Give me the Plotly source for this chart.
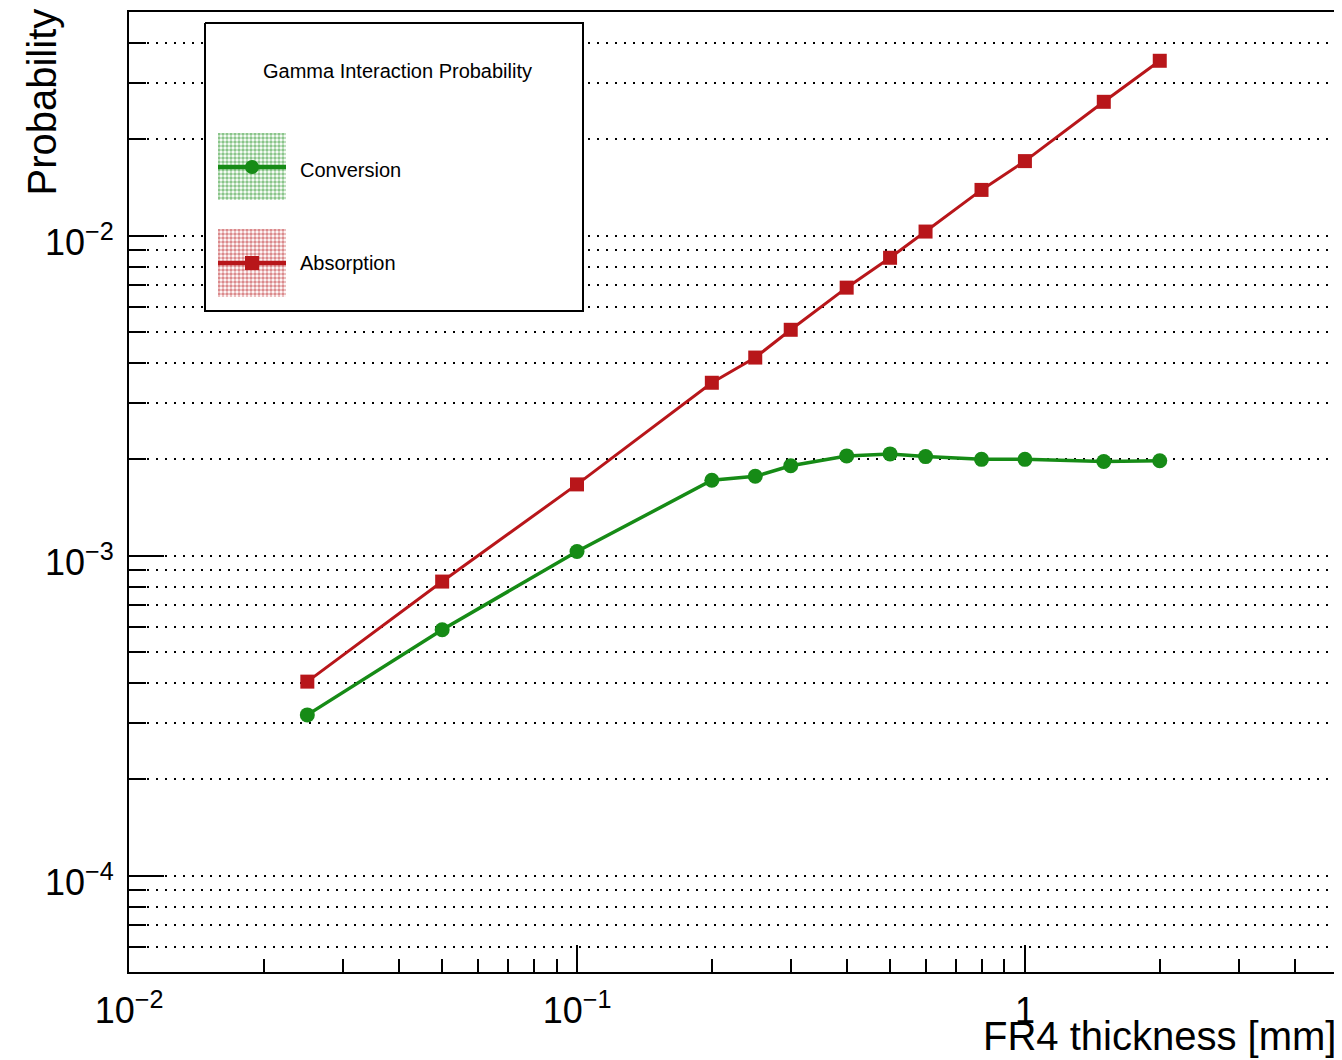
import math
import plotly.graph_objects as go

# ---------------- data ----------------
thickness_mm = [0.025, 0.05, 0.1, 0.2, 0.25, 0.3, 0.4, 0.5, 0.6, 0.8, 1.0, 1.5, 2.0]
conversion = [3.18e-4, 5.87e-4, 1.03e-3, 1.72e-3, 1.77e-3, 1.91e-3, 2.05e-3,
              2.08e-3, 2.04e-3, 2.00e-3, 2.00e-3, 1.97e-3, 1.98e-3]
absorption = [4.04e-4, 8.30e-4, 1.67e-3, 3.47e-3, 4.16e-3, 5.08e-3, 6.88e-3,
              8.53e-3, 1.03e-2, 1.39e-2, 1.71e-2, 2.62e-2, 3.52e-2]

x_major = [0.01, 0.1, 1]
x_major_text = ["10<sup>\u22122</sup>", "10<sup>\u22121</sup>", "1"]
x_minor = [0.02, 0.03, 0.04, 0.05, 0.06, 0.07, 0.08, 0.09,
           0.2, 0.3, 0.4, 0.5, 0.6, 0.7, 0.8, 0.9, 2, 3, 4]
y_major = [1e-4, 1e-3, 1e-2]
y_major_text = ["10<sup>\u22124</sup>", "10<sup>\u22123</sup>", "10<sup>\u22122</sup>"]
y_minor = [6e-5, 7e-5, 8e-5, 9e-5,
           2e-4, 3e-4, 4e-4, 5e-4, 6e-4, 7e-4, 8e-4, 9e-4,
           2e-3, 3e-3, 4e-3, 5e-3, 6e-3, 7e-3, 8e-3, 9e-3,
           2e-2, 3e-2, 4e-2]

legend_title = "Gamma Interaction Probability"
series_names = ["Conversion", "Absorption"]

GREEN = "#168b16"
RED = "#b8161a"
FONT = "Liberation Sans, Arial, Helvetica, sans-serif"

# the page body has an 8px margin; figure sized/placed so the plot frame
# lands at page x 129..1338, y 12..972
PAGE_OFF = 8
W, H = 1334, 1052
ML, MR, MT, MB = 121, 4, 4, 88
PW, PH = W - ML - MR, H - MT - MB
P_LEFT, P_BOTTOM = ML + PAGE_OFF, H - MB + PAGE_OFF


def fx(px):
    return (px - P_LEFT) / PW


def fy(py):
    return (P_BOTTOM - py) / PH


fig = go.Figure()

fig.add_trace(go.Scatter(x=thickness_mm, y=conversion, mode="lines+markers",
                         name=series_names[0], showlegend=False,
                         line=dict(color=GREEN, width=3.5),
                         marker=dict(symbol="circle", size=15, color=GREEN)))
fig.add_trace(go.Scatter(x=thickness_mm, y=absorption, mode="lines+markers",
                         name=series_names[1], showlegend=False,
                         line=dict(color=RED, width=3),
                         marker=dict(symbol="square", size=14, color=RED)))

# ---------------- hand-built legend (ROOT TLegend look) ----------------
box_x0, box_x1 = fx(205), fx(583)
box_y0, box_y1 = fy(311), fy(23)
fig.add_trace(go.Scatter(
    x=[box_x0, box_x1, box_x1, box_x0, box_x0], y=[box_y1, box_y1, box_y0, box_y0, box_y1],
    xaxis="x2", yaxis="y2", mode="lines", fill="toself", fillcolor="white",
    line=dict(color="black", width=2), showlegend=False, hoverinfo="skip"))

entries = [(series_names[0], GREEN, "circle", 133, 200, 167, 170),
           (series_names[1], RED, "square", 229, 297, 263, 263)]
sx0, sx1 = fx(218), fx(286)
for name, col, sym, top, bot, mid, label_y in entries:
    fig.add_trace(go.Scatter(
        x=[sx0, sx1, sx1, sx0, sx0], y=[fy(top), fy(top), fy(bot), fy(bot), fy(top)],
        xaxis="x2", yaxis="y2", mode="lines", fill="toself", showlegend=False,
        hoverinfo="skip", line=dict(width=0, color="rgba(0,0,0,0)"),
        fillcolor="rgba(0,0,0,0)",
        fillpattern=dict(shape=".", fgcolor=col, bgcolor="white", size=4, solidity=0.6)))
    fig.add_trace(go.Scatter(
        x=[sx0, sx1], y=[fy(mid), fy(mid)], xaxis="x2", yaxis="y2", mode="lines",
        showlegend=False, hoverinfo="skip", line=dict(color=col, width=4.5)))
    fig.add_trace(go.Scatter(
        x=[(sx0 + sx1) / 2], y=[fy(mid)], xaxis="x2", yaxis="y2", mode="markers",
        showlegend=False, hoverinfo="skip",
        marker=dict(symbol=sym, size=14, color=col)))
    fig.add_annotation(x=fx(298), y=fy(label_y), xref="paper", yref="paper",
                       text=name, showarrow=False, xanchor="left", yanchor="middle",
                       font=dict(family=FONT, size=20, color="black"))

fig.add_annotation(x=fx(397), y=fy(71), xref="paper", yref="paper",
                   text=legend_title, showarrow=False, xanchor="center", yanchor="middle",
                   font=dict(family=FONT, size=20, color="black"))

# ---------------- axis titles ----------------
fig.add_annotation(x=fx(41), y=1, xref="paper", yref="paper", text="Probability",
                   textangle=-90, showarrow=False, xanchor="center", yanchor="top",
                   yshift=6, font=dict(family=FONT, size=40, color="black"))
fig.add_annotation(x=1, y=0, xref="paper", yref="paper", text="FR4 thickness [mm]",
                   showarrow=False, xanchor="right", yanchor="top", yshift=-40,
                   font=dict(family=FONT, size=40, color="black"))

grid_dash = "2px,7px"
fig.update_layout(
    width=W, height=H, margin=dict(l=ML, r=MR, t=MT, b=MB, autoexpand=False),
    paper_bgcolor="white", plot_bgcolor="white", showlegend=False,
    font=dict(family=FONT, color="black"),
    xaxis=dict(type="log", range=[-2.0002, math.log10(5)], automargin=False,
               tickmode="array", tickvals=x_major, ticktext=x_major_text,
               ticks="inside", ticklen=27, tickwidth=2, tickcolor="black",
               ticklabelstandoff=6,
               showgrid=False, zeroline=False,
               showline=True, linecolor="black", linewidth=2, mirror=True,
               tickfont=dict(family=FONT, size=36, color="black"),
               minor=dict(tickmode="array", tickvals=x_minor, ticks="inside",
                          ticklen=13, tickwidth=2, tickcolor="black", showgrid=False)),
    yaxis=dict(type="log", range=[math.log10(5e-5), math.log10(5e-2)], automargin=False,
               tickmode="array", tickvals=y_major, ticktext=y_major_text,
               ticks="inside", ticklen=35, tickwidth=2, tickcolor="black",
               ticklabelstandoff=6, ticklabelshift=7,
               showgrid=True, gridcolor="black", gridwidth=1.6, griddash=grid_dash,
               zeroline=False,
               showline=True, linecolor="black", linewidth=2, mirror=True,
               tickfont=dict(family=FONT, size=36, color="black"),
               minor=dict(tickmode="array", tickvals=y_minor, ticks="inside",
                          ticklen=17, tickwidth=2, tickcolor="black",
                          showgrid=True, gridcolor="black", gridwidth=1.6,
                          griddash=grid_dash)),
    xaxis2=dict(overlaying="x", anchor="y2", range=[0, 1], visible=False, fixedrange=True),
    yaxis2=dict(overlaying="y", anchor="x2", range=[0, 1], visible=False, fixedrange=True),
)

fig.write_html("out.html")
